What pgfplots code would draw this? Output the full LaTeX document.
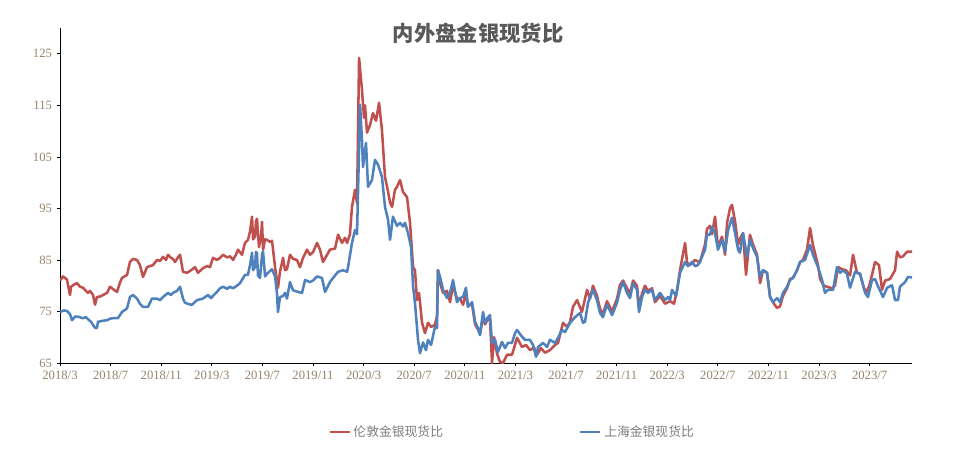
\documentclass[border=0pt]{standalone}
\usepackage{fontspec}
\setmainfont{Liberation Serif}
\newfontfamily\cjk{Noto Sans CJK SC}
\usepackage{pgfplots}
\pgfplotsset{compat=1.18}
\definecolor{lred}{RGB}{192,80,77}
\definecolor{lblue}{RGB}{79,129,189}
\definecolor{ticktext}{RGB}{150,130,105}
\definecolor{titlegray}{RGB}{89,89,89}
\definecolor{leggray}{RGB}{125,125,125}
\begin{document}
\begin{tikzpicture}[x=0.75pt,y=0.75pt]
\path[use as bounding box] (0,0) rectangle (955,455);
\node[font=\cjk\bfseries\fontsize{16}{18}\selectfont, text=titlegray] at (478,422) {内外盘金银现货比};
\begin{axis}[
  at={(45pt,69pt)}, anchor=south west,
  scale only axis, width=639pt, height=251.25pt,
  xmin=0, xmax=67.35, ymin=65, ymax=130,
  axis x line*=bottom, axis y line*=left,
  axis line style={-, black, line width=0.6pt},
  ytick={65,75,...,125},
  xtick={0,4,...,64},
  xticklabels={2018/3,2018/7,2018/11,2019/3,2019/7,2019/11,2020/3,2020/7,2020/11,2021/3,2021/7,2021/11,2022/3,2022/7,2022/11,2023/3,2023/7},
  tick align=outside, major tick length=2.5pt,
  tick style={black, line width=0.5pt},
  tick label style={font=\fontsize{9.5}{10}\selectfont, text=ticktext},
  /pgf/number format/assume math mode=true,
  legend style={at={(0.531,-0.206)}, anchor=center, draw=none, fill=none,
    font=\cjk\fontsize{9.6}{11}\selectfont, text=leggray,
    /tikz/every even column/.append style={column sep=100pt}},
  legend columns=2,
  legend image code/.code={\draw[#1, line width=1.9pt] (0pt,0pt) -- (15pt,0pt);},
  every axis plot/.append style={line width=1.9pt, line join=round, no markers},
]
\addplot[color=lred] coordinates {
(0.00,81.0)(0.24,81.8)(0.55,81.2)(0.79,78.2)(0.87,79.8)(1.11,80.2)(1.34,80.5)(1.58,79.8)(1.82,79.6)(2.21,78.6)
(2.37,79.0)(2.61,78.2)(2.77,76.3)(2.92,77.8)(3.16,77.9)(3.40,78.2)(3.72,78.6)(3.95,79.8)(4.27,79.2)(4.51,78.8)
(4.74,80.6)(4.90,81.5)(5.30,82.1)(5.53,84.6)(5.77,85.2)(6.09,85.0)(6.32,84.0)(6.56,81.7)(6.88,83.6)(7.11,83.8)
(7.35,84.0)(7.67,85.0)(7.91,84.8)(8.14,85.6)(8.38,85.0)(8.54,86.0)(8.77,85.4)(8.93,85.2)(9.09,84.6)(9.33,85.5)
(9.49,86.0)(9.72,82.7)(10.04,82.5)(10.36,83.0)(10.67,83.6)(10.91,82.5)(11.30,83.4)(11.62,83.8)(11.86,83.6)(12.09,85.4)
(12.41,85.0)(12.65,85.4)(12.89,86.0)(13.20,85.5)(13.44,85.7)(13.68,85.0)(13.91,86.0)(14.07,87.0)(14.39,86.0)(14.62,88.3)
(14.86,88.9)(15.02,90.5)(15.18,93.4)(15.26,89.0)(15.42,89.6)(15.49,92.5)(15.57,93.0)(15.65,90.0)(15.73,87.5)(15.89,89.5)
(15.97,92.4)(16.05,87.0)(16.21,89.0)(16.36,88.9)(16.60,88.5)(16.76,88.7)(17.00,83.6)(17.23,79.6)(17.39,82.7)(17.63,85.4)
(17.79,83.0)(17.94,83.2)(18.18,86.0)(18.42,85.2)(18.73,85.0)(18.97,83.6)(19.21,85.4)(19.53,87.0)(19.76,86.0)(20.00,86.5)
(20.32,88.3)(20.55,87.0)(20.79,84.6)(21.11,86.0)(21.34,87.0)(21.74,87.2)(21.98,89.9)(22.29,88.3)(22.53,89.3)(22.69,88.3)
(22.92,90.0)(23.08,95.3)(23.32,98.6)(23.48,96.0)(23.64,124.2)(23.87,118.0)(24.03,112.6)(24.11,115.0)(24.27,109.7)(24.51,111.2)
(24.74,113.5)(24.98,112.0)(25.22,115.5)(25.45,110.2)(25.69,101.1)(25.93,98.3)(26.09,96.1)(26.25,95.3)(26.48,98.6)(26.64,99.2)
(26.88,100.5)(27.11,98.2)(27.43,97.2)(27.67,92.2)(27.91,83.6)(28.06,83.0)(28.22,77.2)(28.38,78.6)(28.62,72.8)(28.85,70.8)
(29.09,72.8)(29.33,72.0)(29.64,72.4)(29.80,74.0)(29.88,83.0)(30.04,80.5)(30.28,78.6)(30.59,79.0)(30.83,76.8)(31.07,80.0)
(31.38,77.5)(31.62,77.5)(31.86,76.3)(32.09,78.5)(32.25,76.0)(32.57,76.5)(32.81,72.5)(33.04,71.5)(33.20,70.6)(33.44,74.0)
(33.60,72.5)(33.83,73.5)(33.99,73.5)(34.15,65.0)(34.31,70.0)(34.54,66.9)(34.78,65.2)(35.02,65.0)(35.34,66.6)(35.73,66.6)
(36.13,69.9)(36.52,68.1)(36.84,68.5)(37.15,67.5)(37.47,68.0)(37.71,66.6)(38.02,67.9)(38.34,67.0)(38.73,67.5)(39.13,68.5)
(39.37,68.9)(39.76,72.8)(40.08,72.0)(40.32,73.0)(40.55,75.9)(40.87,77.2)(41.26,74.9)(41.66,79.2)(41.90,77.5)(42.13,80.0)
(42.45,78.0)(42.69,75.5)(42.92,74.5)(43.24,77.0)(43.64,75.0)(44.03,77.5)(44.27,80.2)(44.51,81.0)(44.82,79.5)(45.06,78.5)
(45.30,81.0)(45.61,80.0)(45.77,76.0)(46.01,78.5)(46.24,80.0)(46.48,79.0)(46.80,79.5)(47.03,76.8)(47.43,78.0)(47.83,76.5)
(48.22,77.0)(48.54,76.5)(48.77,79.0)(49.01,83.0)(49.41,88.3)(49.57,84.5)(49.80,84.0)(50.20,85.0)(50.59,84.5)(50.75,86.0)
(50.99,88.0)(51.14,91.0)(51.38,91.6)(51.54,90.0)(51.78,93.4)(52.01,87.5)(52.33,89.5)(52.57,86.0)(52.73,92.2)(52.96,95.0)
(53.12,95.7)(53.36,92.5)(53.60,88.0)(53.83,89.5)(53.99,90.2)(54.23,82.1)(54.54,89.9)(54.78,88.0)(55.10,86.0)(55.34,80.5)
(55.57,83.0)(55.89,82.5)(56.13,77.8)(56.44,76.5)(56.68,75.7)(56.92,76.0)(57.15,78.0)(57.47,79.5)(57.71,81.3)(57.94,81.5)
(58.26,83.0)(58.50,84.6)(58.73,85.0)(59.05,87.0)(59.29,91.2)(59.52,87.9)(59.92,84.0)(60.08,81.3)(60.39,80.0)(60.63,79.8)
(61.03,79.5)(61.26,80.0)(61.50,83.6)(61.82,83.2)(62.13,83.0)(62.45,82.0)(62.69,86.0)(63.00,82.5)(63.24,82.3)(63.56,79.5)
(63.79,78.8)(64.03,80.5)(64.43,84.6)(64.74,84.0)(64.98,79.2)(65.22,81.0)(65.61,81.3)(66.01,83.0)(66.17,86.6)(66.40,85.5)
(66.64,85.7)(66.96,86.6)(67.35,86.6)
};
\addlegendentry{伦敦金银现货比}
\addplot[color=lblue] coordinates {
(0.00,74.9)(0.32,75.2)(0.55,75.1)(0.79,74.5)(0.95,73.3)(1.19,74.0)(1.42,74.0)(1.66,73.8)(1.82,73.7)(2.06,73.9)
(2.21,73.5)(2.45,73.0)(2.61,72.4)(2.77,71.8)(2.92,71.8)(3.00,73.0)(3.40,73.2)(3.72,73.3)(3.95,73.6)(4.19,73.7)
(4.58,73.7)(4.90,74.9)(5.30,75.6)(5.53,77.8)(5.77,78.2)(6.09,77.5)(6.32,76.5)(6.56,75.9)(6.96,75.9)(7.27,77.5)
(7.67,77.5)(7.91,77.2)(8.14,77.8)(8.54,78.6)(8.77,78.2)(8.93,78.6)(9.25,79.0)(9.49,79.8)(9.72,77.5)(9.88,76.7)
(10.20,76.4)(10.43,76.3)(10.83,77.2)(11.30,77.5)(11.70,78.2)(11.94,77.6)(12.09,78.0)(12.41,78.8)(12.65,79.5)(12.89,79.8)
(13.20,79.4)(13.44,79.8)(13.68,79.5)(13.99,80.0)(14.23,80.5)(14.62,82.1)(14.86,82.1)(15.02,84.0)(15.18,86.4)(15.26,83.0)
(15.42,83.6)(15.49,86.5)(15.57,86.4)(15.65,82.0)(15.81,81.5)(15.97,86.0)(16.05,86.7)(16.21,81.8)(16.44,82.5)(16.76,83.2)
(17.00,81.8)(17.15,78.6)(17.23,74.9)(17.39,77.8)(17.63,78.0)(17.79,78.6)(17.94,77.5)(18.18,80.7)(18.42,79.1)(18.81,78.8)
(19.13,78.6)(19.37,81.1)(19.76,80.7)(20.00,81.0)(20.32,81.8)(20.71,81.5)(20.95,78.8)(21.34,80.7)(21.58,81.5)(21.98,82.7)
(22.37,83.0)(22.69,82.7)(22.77,83.6)(23.08,88.3)(23.32,90.8)(23.48,90.0)(23.72,115.1)(23.87,108.3)(23.95,103.0)(24.19,107.7)
(24.35,99.2)(24.66,100.5)(24.90,104.4)(25.14,103.5)(25.45,101.1)(25.69,95.3)(25.93,92.8)(26.09,88.9)(26.32,93.4)(26.64,91.6)
(26.88,92.2)(27.11,91.5)(27.27,92.2)(27.51,90.2)(27.75,87.5)(27.91,79.8)(28.06,76.7)(28.30,69.5)(28.46,66.9)(28.70,69.0)
(28.93,67.5)(29.09,69.5)(29.33,68.5)(29.64,72.0)(29.80,71.8)(29.88,83.0)(30.04,81.7)(30.28,79.2)(30.59,77.6)(30.83,78.6)
(31.07,81.1)(31.38,76.8)(31.62,77.6)(31.86,77.8)(32.09,79.6)(32.25,75.9)(32.57,76.8)(32.81,73.0)(33.04,71.8)(33.20,70.4)
(33.44,74.9)(33.60,72.8)(33.83,73.9)(33.99,74.3)(34.15,68.9)(34.39,69.5)(34.62,67.1)(34.94,69.1)(35.18,67.9)(35.41,68.9)
(35.73,68.9)(35.97,70.8)(36.13,71.4)(36.52,70.1)(36.76,69.5)(37.15,69.5)(37.39,68.5)(37.63,66.2)(37.79,68.1)(38.18,68.9)
(38.50,68.1)(38.73,69.5)(39.13,68.9)(39.37,69.9)(39.68,71.4)(39.92,71.0)(40.32,72.8)(40.71,73.9)(41.11,74.7)(41.34,72.8)
(41.50,73.0)(41.74,76.7)(42.13,79.2)(42.45,77.2)(42.69,74.7)(42.92,73.9)(43.24,76.3)(43.64,74.3)(44.03,76.7)(44.27,79.2)
(44.51,80.7)(44.82,78.6)(45.06,77.6)(45.30,80.5)(45.61,79.2)(45.77,74.9)(46.01,77.8)(46.24,79.2)(46.48,78.6)(46.80,79.2)
(47.03,77.2)(47.43,78.6)(47.83,77.2)(48.06,77.8)(48.22,77.2)(48.38,79.2)(48.70,78.0)(49.01,82.5)(49.41,84.6)(49.64,83.8)
(49.96,84.6)(50.20,83.8)(50.43,84.0)(50.75,85.6)(50.99,87.0)(51.14,89.9)(51.38,89.9)(51.54,91.4)(51.78,90.2)(52.01,87.0)
(52.33,88.9)(52.57,86.6)(52.81,90.8)(53.12,93.2)(53.36,90.2)(53.60,87.0)(53.75,86.4)(53.99,90.2)(54.31,85.6)(54.54,88.9)
(54.78,87.3)(55.10,85.6)(55.34,81.7)(55.57,83.0)(55.89,82.5)(56.13,77.8)(56.36,76.8)(56.68,77.6)(56.92,76.8)(57.15,78.6)
(57.47,79.8)(57.71,81.1)(57.94,81.5)(58.26,83.0)(58.50,84.6)(58.89,85.0)(59.29,87.9)(59.52,86.0)(59.92,83.6)(60.24,81.1)
(60.47,78.6)(60.71,79.2)(61.11,79.2)(61.42,83.6)(61.66,82.5)(61.90,83.0)(62.21,82.3)(62.45,79.6)(62.85,82.7)(63.24,82.3)
(63.64,78.6)(63.87,77.8)(64.19,81.1)(64.43,81.3)(64.66,79.9)(65.06,77.8)(65.38,79.6)(65.77,80.1)(66.01,77.2)(66.24,77.2)
(66.40,79.8)(66.80,80.7)(67.03,81.7)(67.35,81.6)
};
\addlegendentry{上海金银现货比}
\end{axis}
\end{tikzpicture}
\end{document}
